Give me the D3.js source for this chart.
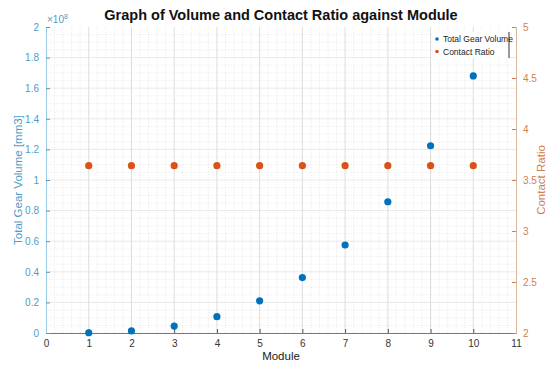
<!DOCTYPE html>
<html>
<head>
<meta charset="utf-8">
<script src="https://cdn.jsdelivr.net/npm/d3@7"></script>
<style>
  html, body { margin: 0; padding: 0; background: #fff; }
  svg { display: block; font-family: "Liberation Sans", Arial, sans-serif; }
</style>
</head>
<body>
<svg id="chart" width="558" height="369"></svg>
<script>
// Module numbers on the x axis
const modules = [1, 2, 3, 4, 5, 6, 7, 8, 9, 10];
// Total gear volume, in units of 1e8 mm3
const volume = [0.0017, 0.0134, 0.045, 0.107, 0.21, 0.362, 0.575, 0.858, 1.224, 1.68];
// Contact ratio per module
const contactRatio = [3.64, 3.64, 3.64, 3.64, 3.64, 3.64, 3.64, 3.64, 3.64, 3.64];

const xTicks = [0, 1, 2, 3, 4, 5, 6, 7, 8, 9, 10, 11];
const leftTicks = [0, 0.2, 0.4, 0.6, 0.8, 1, 1.2, 1.4, 1.6, 1.8, 2];
const rightTicks = [2, 2.5, 3, 3.5, 4, 4.5, 5];

const title = "Graph of Volume and Contact Ratio against Module";
const xLabel = "Module";
const leftLabel = "Total Gear Volume [mm3]";
const rightLabel = "Contact Ratio";
const seriesNames = ["Total Gear Volume", "Contact Ratio"];

const blue = "#0072BD", orange = "#D95319";
const leftAxisColor = "#4f9cc9", rightAxisColor = "#d0804f";

const m = { left: 46, right: 42, top: 27, bottom: 36 };
const W = 558, H = 369;
const pw = W - m.left - m.right, ph = H - m.top - m.bottom;

const svg = d3.select("#chart");
const g = svg.append("g").attr("transform", `translate(${m.left},${m.top})`);

const x = d3.scaleLinear().domain([0, 11]).range([0, pw]);
const yL = d3.scaleLinear().domain([0, 2]).range([ph, 0]);
const yR = d3.scaleLinear().domain([2, 5]).range([ph, 0]);

// Minor grid (dotted)
const minorX = d3.range(0, 11.001, 0.2).filter(v => Math.abs(v - Math.round(v)) > 1e-6);
const minorY = d3.range(0, 2.001, 0.05).filter(v => Math.abs(v * 5 - Math.round(v * 5)) > 1e-6);
g.append("g").selectAll("line").data(minorX).join("line")
  .attr("x1", d => x(d)).attr("x2", d => x(d)).attr("y1", 0).attr("y2", ph)
  .attr("stroke", "#e2e2e2").attr("stroke-width", 0.8).attr("stroke-dasharray", "1,1.5");
g.append("g").selectAll("line").data(minorY).join("line")
  .attr("y1", d => yL(d)).attr("y2", d => yL(d)).attr("x1", 0).attr("x2", pw)
  .attr("stroke", "#e6e6e6").attr("stroke-width", 0.8).attr("stroke-dasharray", "1,1.5");

// Major grid
g.append("g").selectAll("line").data(xTicks.slice(1, -1)).join("line")
  .attr("x1", d => x(d)).attr("x2", d => x(d)).attr("y1", 0).attr("y2", ph)
  .attr("stroke", "#d4d4d4").attr("stroke-width", 0.8);
g.append("g").selectAll("line").data(leftTicks.slice(1, -1)).join("line")
  .attr("y1", d => yL(d)).attr("y2", d => yL(d)).attr("x1", 0).attr("x2", pw)
  .attr("stroke", "#e4e4e4").attr("stroke-width", 0.8);

// Axes
const xAxis = g.append("g").attr("transform", `translate(0,${ph})`)
  .call(d3.axisBottom(x).tickValues(xTicks).tickFormat(d3.format("d")).tickSize(-4).tickPadding(7));
xAxis.select(".domain").attr("stroke", "#777");
xAxis.selectAll(".tick line").attr("stroke", "#555");
xAxis.selectAll("text").attr("fill", "#333").attr("font-size", 10);

const lAxis = g.append("g")
  .call(d3.axisLeft(yL).tickValues(leftTicks).tickFormat(d => d === 0 ? "0" : d3.format("")(+d.toFixed(1))).tickSize(-4).tickPadding(7));
lAxis.select(".domain").attr("stroke", "#9ccbe4");
lAxis.selectAll(".tick line").attr("stroke", leftAxisColor);
lAxis.selectAll("text").attr("fill", leftAxisColor).attr("font-size", 10);

const rAxis = g.append("g").attr("transform", `translate(${pw},0)`)
  .call(d3.axisRight(yR).tickValues(rightTicks).tickFormat(d3.format("")).tickSize(-4).tickPadding(7));
rAxis.select(".domain").attr("stroke", "#d8b69c");
rAxis.selectAll(".tick line").attr("stroke", rightAxisColor);
rAxis.selectAll("text").attr("fill", rightAxisColor).attr("font-size", 10);

// Exponent label
const expo = g.append("text").attr("x", 1).attr("y", -4)
  .attr("fill", leftAxisColor).attr("font-size", 10);
expo.append("tspan").text("\u00d710");
expo.append("tspan").attr("dy", -4).attr("font-size", 7).text("8");

// Data points
g.append("g").selectAll("circle").data(modules).join("circle")
  .attr("cx", (d) => x(d)).attr("cy", (d, i) => yL(volume[i])).attr("r", 3.6).attr("fill", blue);
g.append("g").selectAll("circle").data(modules).join("circle")
  .attr("cx", (d) => x(d)).attr("cy", (d, i) => yR(contactRatio[i])).attr("r", 3.6).attr("fill", orange);

// Title and axis labels
svg.append("text").attr("x", m.left + pw / 2).attr("y", 20).attr("text-anchor", "middle")
  .attr("font-size", 14.5).attr("font-weight", "bold").attr("fill", "#111").text(title);
svg.append("text").attr("x", m.left + pw / 2).attr("y", 360).attr("text-anchor", "middle")
  .attr("font-size", 11.5).attr("fill", "#222").text(xLabel);
svg.append("text").attr("transform", `translate(22,${m.top + ph / 2}) rotate(-90)`)
  .attr("text-anchor", "middle").attr("font-size", 11.5).attr("fill", leftAxisColor).text(leftLabel);
svg.append("text").attr("transform", `translate(545,${m.top + ph / 2}) rotate(-90)`)
  .attr("text-anchor", "middle").attr("font-size", 11.5).attr("fill", rightAxisColor).text(rightLabel);

// Legend
const lg = svg.append("g").attr("transform", "translate(432,32)");
lg.append("rect").attr("width", 77).attr("height", 26).attr("fill", "#fff");
lg.append("line").attr("x1", 77).attr("x2", 77).attr("y1", 0).attr("y2", 26)
  .attr("stroke", "#333").attr("stroke-width", 1);
[blue, orange].forEach((c, i) => {
  lg.append("circle").attr("cx", 5).attr("cy", 7 + i * 12.5).attr("r", 1.8).attr("fill", c);
  lg.append("text").attr("x", 11).attr("y", 10 + i * 12.5).attr("font-size", 8.5)
    .attr("fill", "#222").text(seriesNames[i]);
});
</script>
</body>
</html>
